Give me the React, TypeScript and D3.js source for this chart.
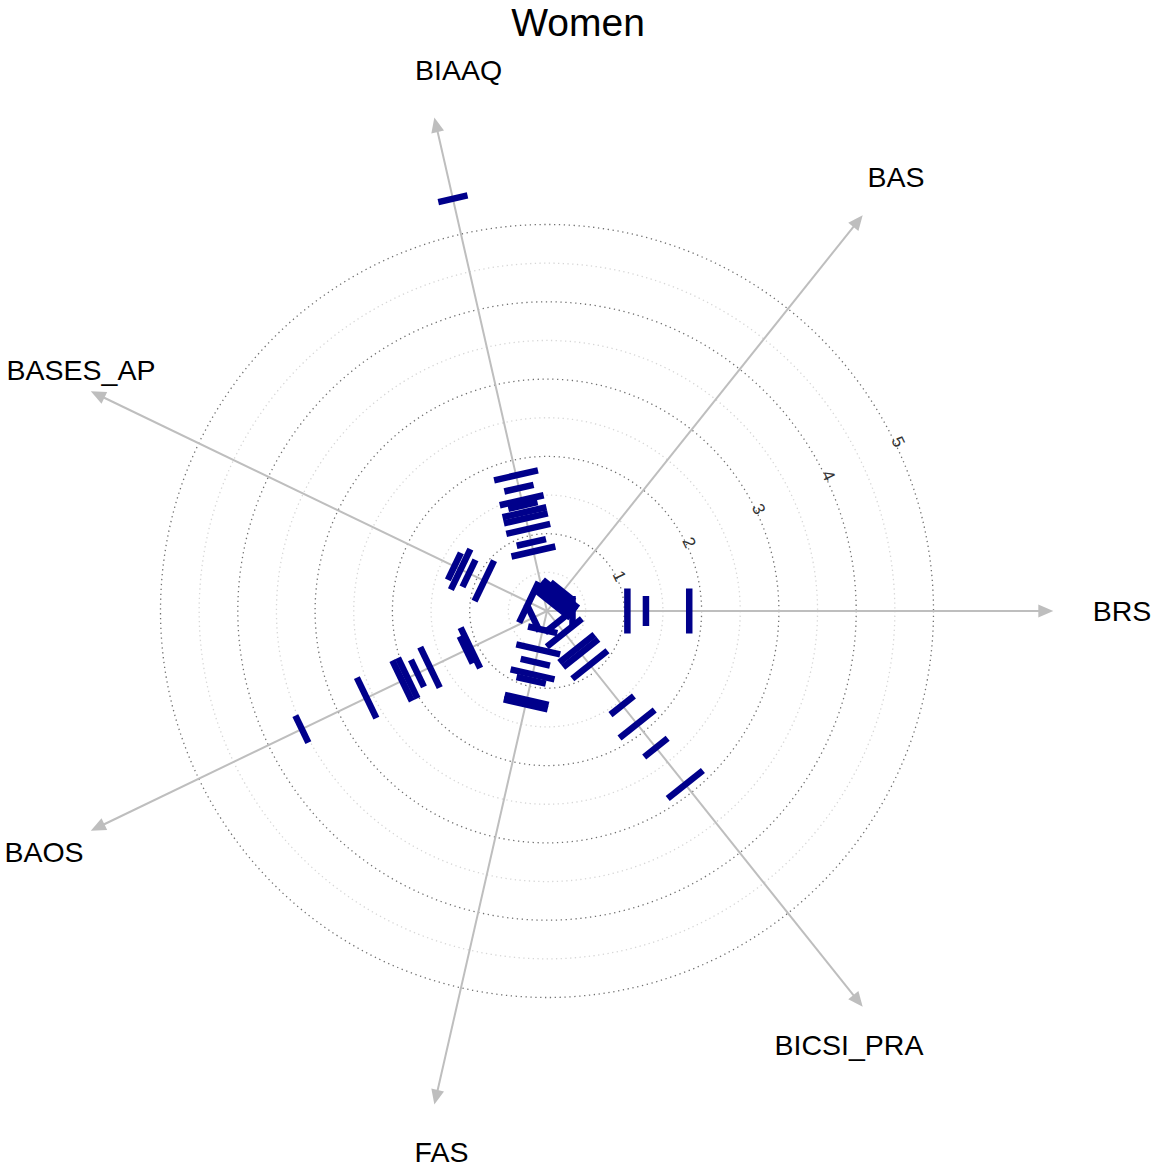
import * as d3 from 'd3';
import React from 'react';

// axis names, counter-clockwise from the right
const axes = ['BRS', 'BAS', 'BIAAQ', 'BASES_AP', 'BAOS', 'FAS', 'BICSI_PRA'];

// values along each axis, and a weight per value (sets the bar length)
const brsValues = [0.33, 1.04, 1.28, 1.84];
const brsWeights = [2, 3, 2, 3];
const basValues = [0.12, 0.16, 0.2, 0.24, 0.28, 0.32];
const basWeights = [3, 3, 3, 3, 3, 2];
const biaaqValues = [0.79, 0.91, 1.09, 1.23, 1.31, 1.4, 1.47, 1.63, 1.8, 5.47];
const biaaqWeights = [3, 2, 3, 3, 3, 2, 3, 2, 3, 2];
const basesValues = [0.26, 0.9, 1.12, 1.24, 1.33];
const basesWeights = [3, 3, 2, 3, 2];
const baosValues = [0.2, 1.1, 1.16, 1.68, 1.86, 2.0, 2.08, 2.59, 3.52];
const baosWeights = [2, 3, 2, 3, 2, 3, 3, 3, 2];
const fasValues = [0.25, 0.51, 0.68, 0.84, 0.92, 1.18, 1.24];
const fasWeights = [2, 3, 2, 3, 2, 3, 3];
const bicsiValues = [0.2, 0.36, 0.62, 0.7, 0.89, 1.56, 1.87, 2.26, 2.87];
const bicsiWeights = [2, 3, 3, 3, 3, 2, 3, 2, 3];

const allValues = [brsValues, basValues, biaaqValues, basesValues, baosValues, fasValues, bicsiValues];
const allWeights = [brsWeights, basWeights, biaaqWeights, basesWeights, baosWeights, fasWeights, bicsiWeights];

const gridTicks = [1, 2, 3, 4, 5];
const title = 'Women';

// layout
const width = 1151;
const height = 1167;
const cx = 547;
const cy = 611;
const unit = 77.3;
const axisMax = 6.55;
const labelR = 555;
const labelShift = [20, 3, 35, 34, -3, 18, -44]; // horizontal nudges of the axis names
const font = '"Liberation Sans", Arial, Helvetica, sans-serif';

const App = () => {
  const r = d3.scaleLinear([0, 1], [0, unit]);
  const len = d3.scaleLinear([0, 1], [0, 15]);
  const angle = (i: number) => (i * 360) / axes.length;
  const rad = (deg: number) => (deg * Math.PI) / 180;
  const halfTicks = d3.range(0.5, 5, 1);
  const tickAngle = angle(0.5);
  const barW = 6.5;
  const tip = r(axisMax);

  return (
    <svg width={width} height={height} style={{ position: 'absolute', left: 0, top: 0 }}>
      <rect width={width} height={height} fill="white" />
      <text x={578} y={36} textAnchor="middle" fontFamily={font} fontSize={39}>{title}</text>

      <g transform={`translate(${cx},${cy})`}>
        {halfTicks.map((t) => (
          <circle key={'h' + t} r={r(t)} fill="none" stroke="#d6d6d6" strokeWidth={1.3} strokeDasharray="1.3 3.4" />
        ))}
        {gridTicks.map((t) => (
          <circle key={'g' + t} r={r(t)} fill="none" stroke="#707070" strokeWidth={1.3} strokeDasharray="1.3 3.6" />
        ))}

        {axes.map((a, i) => (
          <g key={a} transform={`rotate(${-angle(i)})`}>
            <line x1={0} y1={0} x2={tip - 12} y2={0} stroke="#bebebe" strokeWidth={2} />
            <path d={`M${tip},0L${tip - 15},-6.5L${tip - 15},6.5Z`} fill="#bebebe" />
          </g>
        ))}

        {axes.map((a, i) => (
          <g key={'m' + a} transform={`rotate(${-angle(i)})`}>
            {allValues[i].map((v, j) => {
              const l = len(allWeights[i][j]);
              return <rect key={j} x={r(v) - barW / 2} y={-l / 2} width={barW} height={l} fill="#00008b" />;
            })}
          </g>
        ))}

        {gridTicks.map((t) => {
          const x = (r(t) + 3) * Math.cos(rad(tickAngle));
          const y = -(r(t) + 3) * Math.sin(rad(tickAngle));
          return (
            <text key={'t' + t} x={x} y={y} fontFamily={font} fontSize={17} fill="#333"
              textAnchor="middle" dominantBaseline="central"
              transform={`rotate(${90 - tickAngle},${x},${y})`}>{t}</text>
          );
        })}

        {axes.map((a, i) => (
          <text key={'l' + a}
            x={labelR * Math.cos(rad(angle(i))) + labelShift[i]}
            y={-labelR * Math.sin(rad(angle(i)))}
            fontFamily={font} fontSize={28.5} textAnchor="middle" dominantBaseline="central">{a}</text>
        ))}
      </g>
    </svg>
  );
};

export default App;
